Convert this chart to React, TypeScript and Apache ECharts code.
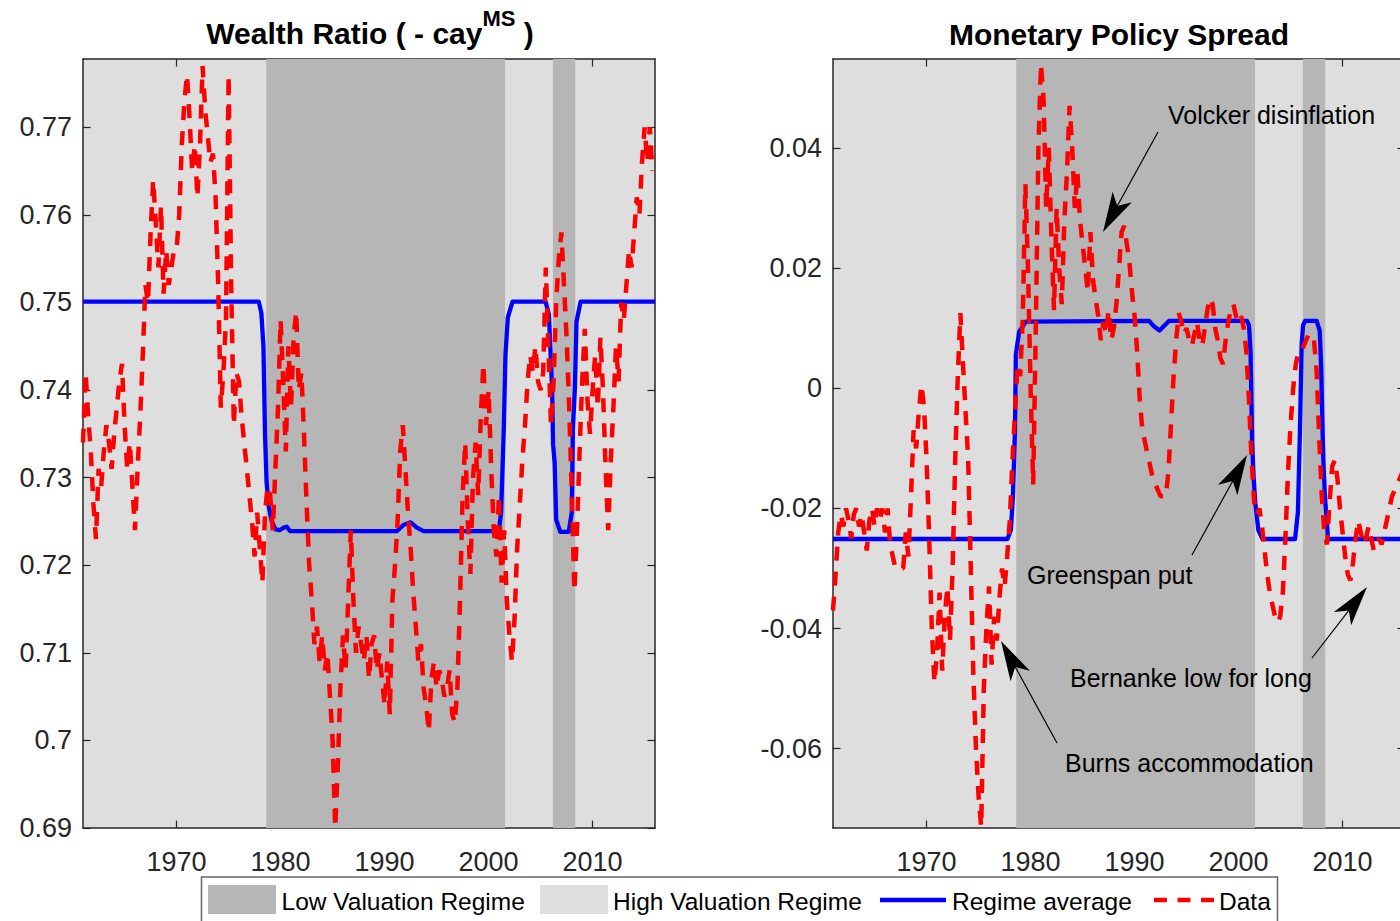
import React, { useEffect, useRef } from "react";
import * as echarts from "echarts";

// ---------------- data ----------------
const START_YEAR = 1961;
const END_YEAR = 2016;
const yearTicks = [1970, 1980, 1990, 2000, 2010];
const wealthTicks = [0.69, 0.7, 0.71, 0.72, 0.73, 0.74, 0.75, 0.76, 0.77];
const spreadTicks = [-0.06, -0.04, -0.02, 0, 0.02, 0.04];
const wealthRange = [0.69, 0.7778];
const spreadRange = [-0.0732, 0.0548];

// Low valuation regime periods
const lowRegimeStart = [1978.62, 2006.18];
const lowRegimeEnd = [2001.58, 2008.33];

// Wealth ratio (-cay^MS), quarterly 1961Q1 - 2015Q4
const wealthData = [
  0.734, 0.742, 0.737, 0.733, // 1961
  0.727, 0.723, 0.731, 0.729, // 1962
  0.733, 0.736, 0.734, 0.731, // 1963
  0.735, 0.738, 0.741, 0.743, // 1964
  0.736, 0.731, 0.734, 0.729, // 1965
  0.724, 0.731, 0.737, 0.744, // 1966
  0.752, 0.75, 0.758, 0.764, // 1967
  0.759, 0.754, 0.761, 0.751, // 1968
  0.756, 0.752, 0.754, 0.756, // 1969
  0.756, 0.76, 0.768, 0.773, // 1970
  0.776, 0.771, 0.765, 0.768, // 1971
  0.762, 0.768, 0.777, 0.772, // 1972
  0.769, 0.766, 0.767, 0.762, // 1973
  0.752, 0.738, 0.742, 0.748, // 1974
  0.776, 0.752, 0.736, 0.742, // 1975
  0.741, 0.737, 0.734, 0.731, // 1976
  0.728, 0.725, 0.721, 0.726, // 1977
  0.722, 0.718, 0.726, 0.729, // 1978
  0.728, 0.724, 0.731, 0.738, // 1979
  0.748, 0.741, 0.733, 0.745, // 1980
  0.738, 0.746, 0.749, 0.74, // 1981
  0.742, 0.735, 0.727, 0.72, // 1982
  0.716, 0.711, 0.713, 0.709, // 1983
  0.712, 0.708, 0.71, 0.705, // 1984
  0.7, 0.69, 0.697, 0.706, // 1985
  0.712, 0.708, 0.716, 0.724, // 1986
  0.716, 0.71, 0.713, 0.711, // 1987
  0.709, 0.712, 0.707, 0.711, // 1988
  0.712, 0.708, 0.71, 0.707, // 1989
  0.704, 0.709, 0.703, 0.716, // 1990
  0.72, 0.725, 0.733, 0.736, // 1991
  0.731, 0.726, 0.722, 0.717, // 1992
  0.713, 0.709, 0.711, 0.706, // 1993
  0.704, 0.701, 0.707, 0.709, // 1994
  0.706, 0.708, 0.707, 0.705, // 1995
  0.706, 0.708, 0.703, 0.702, // 1996
  0.706, 0.716, 0.728, 0.734, // 1997
  0.725, 0.719, 0.73, 0.734, // 1998
  0.728, 0.737, 0.743, 0.736, // 1999
  0.74, 0.731, 0.724, 0.721, // 2000
  0.728, 0.718, 0.724, 0.716, // 2001
  0.712, 0.709, 0.714, 0.722, // 2002
  0.727, 0.732, 0.736, 0.741, // 2003
  0.744, 0.742, 0.745, 0.741, // 2004
  0.74, 0.742, 0.754, 0.745, // 2005
  0.736, 0.741, 0.75, 0.755, // 2006
  0.758, 0.752, 0.746, 0.738, // 2007
  0.728, 0.717, 0.724, 0.733, // 2008
  0.741, 0.747, 0.739, 0.735, // 2009
  0.74, 0.744, 0.738, 0.746, // 2010
  0.74, 0.731, 0.724, 0.732, // 2011
  0.738, 0.745, 0.741, 0.75, // 2012
  0.748, 0.752, 0.756, 0.754, // 2013
  0.758, 0.762, 0.76, 0.766, // 2014
  0.77, 0.766, 0.77, 0.765, // 2015
];

// Monetary policy spread, quarterly 1961Q1 - 2015Q4
const spreadData = [
  -0.037, -0.031, -0.024, -0.021, // 1961
  -0.023, -0.02, -0.022, -0.025, // 1962
  -0.021, -0.02, -0.023, -0.021, // 1963
  -0.024, -0.027, -0.022, -0.02, // 1964
  -0.023, -0.02, -0.022, -0.02, // 1965
  -0.024, -0.02, -0.026, -0.028, // 1966
  -0.03, -0.03, -0.03, -0.03, // 1967
  -0.024, -0.028, -0.018, -0.007, // 1968
  -0.01, -0.004, 0.0006, -0.003, // 1969
  -0.012, -0.025, -0.04, -0.049, // 1970
  -0.044, -0.034, -0.047, -0.038, // 1971
  -0.033, -0.042, -0.03, -0.012, // 1972
  0.002, 0.0125, 0.004, -0.004, // 1973
  -0.012, -0.03, -0.048, -0.06, // 1974
  -0.068, -0.073, -0.05, -0.04, // 1975
  -0.033, -0.046, -0.038, -0.042, // 1976
  -0.035, -0.03, -0.033, -0.028, // 1977
  -0.022, -0.012, -0.004, 0.004, // 1978
  0.002, 0.012, 0.034, 0.02, // 1979
  0.0, -0.016, 0.01, 0.04, // 1980
  0.054, 0.048, 0.03, 0.04, // 1981
  0.025, 0.013, 0.03, 0.02, // 1982
  0.014, 0.028, 0.036, 0.047, // 1983
  0.04, 0.03, 0.036, 0.028, // 1984
  0.024, 0.02, 0.016, 0.026, // 1985
  0.018, 0.015, 0.012, 0.008, // 1986
  0.011, 0.009, 0.013, 0.008, // 1987
  0.01, 0.014, 0.02, 0.026, // 1988
  0.027, 0.024, 0.021, 0.016, // 1989
  0.012, 0.006, -0.002, -0.007, // 1990
  -0.009, -0.011, -0.013, -0.015, // 1991
  -0.016, -0.017, -0.018, -0.018, // 1992
  -0.018, -0.014, -0.006, 0.002, // 1993
  0.008, 0.0125, 0.011, 0.009, // 1994
  0.01, 0.008, 0.007, 0.009, // 1995
  0.011, 0.008, 0.007, 0.01, // 1996
  0.013, 0.015, 0.014, 0.01, // 1997
  0.008, 0.005, 0.004, 0.008, // 1998
  0.011, 0.013, 0.014, 0.012, // 1999
  0.011, 0.012, 0.01, 0.006, // 2000
  -0.002, -0.012, -0.019, -0.021, // 2001
  -0.02, -0.023, -0.027, -0.031, // 2002
  -0.034, -0.036, -0.038, -0.039, // 2003
  -0.038, -0.034, -0.025, -0.014, // 2004
  -0.006, 0.0, 0.004, 0.006, // 2005
  0.006, 0.007, 0.008, 0.009, // 2006
  0.009, 0.008, 0.003, -0.008, // 2007
  -0.018, -0.024, -0.026, -0.019, // 2008
  -0.013, -0.012, -0.015, -0.02, // 2009
  -0.024, -0.028, -0.031, -0.032, // 2010
  -0.029, -0.025, -0.022, -0.024, // 2011
  -0.026, -0.025, -0.023, -0.025, // 2012
  -0.027, -0.026, -0.025, -0.026, // 2013
  -0.024, -0.022, -0.02, -0.018, // 2014
  -0.017, -0.016, -0.015, -0.014, // 2015
];

// Regime average (blue line), key points
const wealthAvgYears = [
  1961, 1977.9, 1978.15, 1978.35, 1978.5, 1978.65, 1978.85, 1979.15, 1979.5, 1979.9,
  1980.3, 1980.6, 1980.9, 1991.2, 1991.8, 1992.5, 1993.1, 1993.75, 2000.98, 2001.2,
  2001.46, 2001.62, 2001.85, 2002.3, 2005.48, 2005.8, 2006.1, 2006.2, 2006.35, 2006.5,
  2006.9, 2007.7, 2008.0, 2008.1, 2008.3, 2008.45, 2008.85, 2016,
];
const wealthAvgValues = [
  0.7501, 0.7501, 0.7488, 0.745, 0.735, 0.7295, 0.7268, 0.725, 0.7241, 0.724,
  0.7243, 0.7244, 0.7239, 0.7239, 0.7246, 0.7249, 0.7243, 0.7239, 0.7239, 0.726,
  0.7355, 0.744, 0.7483, 0.7501, 0.7501, 0.7486, 0.7403, 0.7338, 0.7317, 0.7252,
  0.7238, 0.7238, 0.726, 0.7355, 0.7403, 0.7478, 0.7501, 0.7501,
];
const spreadAvgYears = [
  1961, 1977.78, 1978.1, 1978.3, 1978.5, 1978.58, 1978.9, 1979.55, 1991.4, 1991.85,
  1992.4, 1992.8, 1993.3, 2000.8, 2001.0, 2001.15, 2001.3, 2001.45, 2001.6, 2001.9,
  2002.3, 2005.43, 2005.7, 2005.9, 2006.06, 2006.2, 2006.4, 2007.5, 2007.8, 2007.95,
  2008.05, 2008.15, 2008.3, 2008.6, 2016,
];
const spreadAvgValues = [
  -0.0251, -0.0251, -0.0236, -0.018, -0.0069, 0.0056, 0.0094, 0.0111, 0.0112, 0.0103,
  0.0096, 0.0103, 0.0112, 0.0112, 0.0105, 0.006, -0.009, -0.015, -0.019, -0.0236,
  -0.0251, -0.0251, -0.0207, -0.007, 0.0072, 0.0105, 0.0112, 0.0112, 0.0096, 0.003,
  -0.0056, -0.012, -0.018, -0.0251, -0.0251,
];

const legendLabels = ["Low Valuation Regime", "High Valuation Regime", "Regime average", "Data"];
const annotations = ["Volcker disinflation", "Greenspan put", "Bernanke low for long", "Burns accommodation"];

// ---------------- styling ----------------
const FONT = '"Liberation Sans", Arial, Helvetica, sans-serif';
const AXIS = "#262626";
const DARK = "#b6b6b6";
const LIGHT = "#dedede";
const DASH = [14, 11];

const quarterly = (vals: number[]) => vals.map((v, i) => [START_YEAR + i * 0.25, v]);
const pairs = (xs: number[], ys: number[]) => xs.map((x, i) => [x, ys[i]]);
const bands = lowRegimeStart.map((s, i) => [{ xAxis: s }, { xAxis: lowRegimeEnd[i] }]);
const fmt = (v: number) => String(parseFloat(Number(v).toFixed(4)));

function xAxisCfg(gridIndex: number, position: string, showLabel: boolean) {
  return {
    type: "value",
    gridIndex,
    position,
    min: START_YEAR,
    max: END_YEAR,
    axisLine: { show: true, onZero: false, lineStyle: { color: AXIS, width: 1.5 } },
    axisTick: { show: true, inside: true, length: 7.5, customValues: yearTicks, lineStyle: { color: AXIS, width: 1.2 } },
    axisLabel: {
      show: showLabel,
      customValues: yearTicks,
      margin: 20,
      fontSize: 27,
      color: AXIS,
      fontFamily: FONT,
      formatter: (v: number) => String(Math.round(v)),
    },
    splitLine: { show: false },
  };
}
function yAxisCfg(gridIndex: number, position: string, showLabel: boolean, range: number[], ticks: number[]) {
  return {
    type: "value",
    gridIndex,
    position,
    min: range[0],
    max: range[1],
    axisLine: { show: true, onZero: false, lineStyle: { color: AXIS, width: 1.5 } },
    axisTick: { show: true, inside: true, length: 7.5, customValues: ticks, lineStyle: { color: AXIS, width: 1.2 } },
    axisLabel: {
      show: showLabel,
      customValues: ticks,
      margin: 11,
      fontSize: 27,
      color: AXIS,
      fontFamily: FONT,
      formatter: fmt,
    },
    splitLine: { show: false },
  };
}

function arrow(tail: number[], tip: number[]) {
  const dx = tip[0] - tail[0];
  const dy = tip[1] - tail[1];
  const len = Math.sqrt(dx * dx + dy * dy);
  const ux = dx / len;
  const uy = dy / len;
  const nx = -uy;
  const ny = ux;
  const L = 40;
  const W = 11;
  const back = [tip[0] - L * ux, tip[1] - L * uy];
  const notch = [tip[0] - 0.74 * L * ux, tip[1] - 0.74 * L * uy];
  return [
    {
      type: "line",
      z: 100,
      shape: { x1: tail[0], y1: tail[1], x2: notch[0], y2: notch[1] },
      style: { stroke: "#000", lineWidth: 1.2 },
    },
    {
      type: "polygon",
      z: 100,
      shape: {
        points: [tip, [back[0] + W * nx, back[1] + W * ny], notch, [back[0] - W * nx, back[1] - W * ny]],
      },
      style: { fill: "#000" },
    },
  ];
}

function txt(text: string, x: number, y: number, size: number, extra: any = {}) {
  return {
    type: "text",
    z: 100,
    x,
    y,
    style: {
      text,
      fontSize: size,
      fontFamily: FONT,
      fill: "#000",
      align: "left",
      verticalAlign: "middle",
      textAlign: "left",
      textVerticalAlign: "middle",
      ...extra,
    },
  };
}

function buildOption() {
  const gridCommon = { top: 59, height: 769, width: 572, show: true, backgroundColor: LIGHT, borderWidth: 0, containLabel: false, outerBoundsMode: "none" };
  return {
    animation: false,
    backgroundColor: "#ffffff",
    grid: [
      { ...gridCommon, left: 83 },
      { ...gridCommon, left: 833 },
    ],
    xAxis: [xAxisCfg(0, "bottom", true), xAxisCfg(0, "top", false), xAxisCfg(1, "bottom", true), xAxisCfg(1, "top", false)],
    yAxis: [
      yAxisCfg(0, "left", true, wealthRange, wealthTicks),
      yAxisCfg(0, "right", false, wealthRange, wealthTicks),
      yAxisCfg(1, "left", true, spreadRange, spreadTicks),
      yAxisCfg(1, "right", false, spreadRange, spreadTicks),
    ],
    series: [
      {
        type: "line",
        xAxisIndex: 0,
        yAxisIndex: 0,
        z: 1,
        silent: true,
        symbol: "none",
        data: [[START_YEAR, wealthRange[0]]],
        lineStyle: { opacity: 0 },
        markArea: { silent: true, itemStyle: { color: DARK }, label: { show: false }, data: bands },
      },
      {
        type: "line",
        xAxisIndex: 2,
        yAxisIndex: 2,
        z: 1,
        silent: true,
        symbol: "none",
        data: [[START_YEAR, spreadRange[0]]],
        lineStyle: { opacity: 0 },
        markArea: { silent: true, itemStyle: { color: DARK }, label: { show: false }, data: bands },
      },
      {
        name: legendLabels[2],
        type: "line",
        xAxisIndex: 0,
        yAxisIndex: 0,
        z: 2,
        symbol: "none",
        data: pairs(wealthAvgYears, wealthAvgValues),
        lineStyle: { color: "#0000ff", width: 4.3, join: "round" },
      },
      {
        name: legendLabels[2],
        type: "line",
        xAxisIndex: 2,
        yAxisIndex: 2,
        z: 2,
        symbol: "none",
        data: pairs(spreadAvgYears, spreadAvgValues),
        lineStyle: { color: "#0000ff", width: 4.3, join: "round" },
      },
      {
        name: legendLabels[3],
        type: "line",
        xAxisIndex: 0,
        yAxisIndex: 0,
        z: 3,
        symbol: "none",
        data: quarterly(wealthData),
        lineStyle: { color: "#ff0000", width: 4.5, type: DASH, cap: "butt" },
      },
      {
        name: legendLabels[3],
        type: "line",
        xAxisIndex: 2,
        yAxisIndex: 2,
        z: 3,
        symbol: "none",
        data: quarterly(spreadData),
        lineStyle: { color: "#ff0000", width: 4.5, type: DASH, cap: "butt" },
      },
    ],
    graphic: [
      // titles
      {
        type: "text",
        z: 100,
        x: 370,
        y: 33,
        style: {
          text: "{a|Wealth Ratio ( - cay}{s|MS}{a| )}",
          align: "center",
          verticalAlign: "middle",
          textAlign: "center",
          textVerticalAlign: "middle",
          rich: {
            a: { fontSize: 30, fontWeight: "bold", fontFamily: FONT, fill: "#000", lineHeight: 52, verticalAlign: "middle" },
            s: { fontSize: 22, fontWeight: "bold", fontFamily: FONT, fill: "#000", lineHeight: 16, verticalAlign: "top" },
          },
        },
      },
      txt("Monetary Policy Spread", 1119, 34, 30, { fontWeight: "bold", align: "center", textAlign: "center" }),
      // annotations
      txt(annotations[0], 1168, 115, 25),
      ...arrow([1158, 132], [1103, 232]),
      txt(annotations[1], 1027, 575, 25),
      ...arrow([1192, 555], [1247, 455]),
      txt(annotations[2], 1070, 678, 25),
      ...arrow([1312, 658], [1367, 587]),
      txt(annotations[3], 1065, 763, 25),
      ...arrow([1057, 743], [1001, 641]),
      // legend
      {
        type: "rect",
        z: 90,
        shape: { x: 201.5, y: 877, width: 1076, height: 60 },
        style: { fill: "#fff", stroke: "#666", lineWidth: 1.5 },
      },
      { type: "rect", z: 100, shape: { x: 208, y: 885, width: 68, height: 29 }, style: { fill: DARK } },
      txt(legendLabels[0], 281.5, 901, 24.5),
      { type: "rect", z: 100, shape: { x: 540, y: 885, width: 68, height: 29 }, style: { fill: LIGHT } },
      txt(legendLabels[1], 613, 901, 24.5),
      {
        type: "line",
        z: 100,
        shape: { x1: 880, y1: 900, x2: 946, y2: 900 },
        style: { stroke: "#0000ff", lineWidth: 4.3 },
      },
      txt(legendLabels[2], 952, 901, 24.5),
      {
        type: "line",
        z: 100,
        shape: { x1: 1154, y1: 900, x2: 1214, y2: 900 },
        style: { stroke: "#ff0000", lineWidth: 4.5, lineDash: [13, 10.5] },
      },
      txt(legendLabels[3], 1219, 901, 24.5),
    ],
  };
}

export default function App() {
  const ref = useRef<HTMLDivElement>(null);
  useEffect(() => {
    if (!ref.current) return;
    const chart = echarts.init(ref.current, null, { renderer: "svg" });
    chart.setOption(buildOption() as any);
    return () => {
      chart.dispose();
    };
  }, []);
  return (
    <div
      ref={ref}
      style={{ position: "absolute", left: 0, top: 0, width: 1400, height: 921, background: "#fff" }}
    />
  );
}
